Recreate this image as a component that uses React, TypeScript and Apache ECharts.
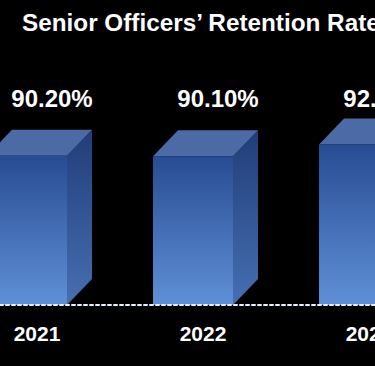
import React, { useEffect, useRef } from "react";
import * as echarts from "echarts";

const title = "Senior Officers\u2019 Retention Rate";
const years = ["2021", "2022", "2023"];
const rates = [90.2, 90.1, 92.5];
const rateLabels = ["90.20%", "90.10%", "92.50%"];
const yearPositions = [0, 1, 2];

const FONT = "'Liberation Sans', Arial, sans-serif";

export default function App() {
  const ref = useRef<HTMLDivElement>(null);
  useEffect(() => {
    if (!ref.current) return;
    const chart = echarts.init(ref.current, null, { renderer: "svg" });
    const option: any = {
      animation: false,
      backgroundColor: "#000000",
      title: {
        text: title,
        left: 17,
        top: 5,
        textStyle: { color: "#ffffff", fontSize: 24.3, fontWeight: "bold", fontFamily: FONT },
      },
      grid: { left: 0, right: 0, top: 58, bottom: 61, outerBoundsMode: "none", containLabel: false },
      xAxis: {
        type: "value",
        min: -0.2229,
        max: 2.036,
        z: 10,
        splitLine: { show: false },
        axisLine: { show: true, onZero: false, lineStyle: { color: "#e6f2ff", width: 2, type: [3, 3] } },
        axisTick: { show: false },
        axisLabel: {
          customValues: yearPositions,
          formatter: (v: number) => years[Math.round(v)] ?? "",
          color: "#ffffff",
          fontSize: 21,
          fontWeight: "bold",
          fontFamily: FONT,
          margin: 18,
        },
      },
      yAxis: { type: "value", min: 60, max: 110, show: false, splitLine: { show: false } },
      series: [
        {
          type: "custom",
          clip: false,
          data: rates.map((v, i) => [yearPositions[i], v]),
          renderItem: (params: any, api: any) => {
            const idx = api.value(0);
            const v = api.value(1);
            const top = api.coord([idx, v]);
            const base = api.coord([idx, 60]);
            const cx = top[0];
            const xl = cx - 50;
            const xr = cx + 30;
            const dx = 25;
            const dy = 26;
            const yt = top[1];
            const yb = base[1];
            return {
              type: "group",
              children: [
                {
                  type: "polygon",
                  shape: { points: [[xr, yt], [xr + dx, yt - dy], [xr + dx, yb - dy], [xr, yb]] },
                  style: {
                    fill: new echarts.graphic.LinearGradient(0, 0, 0, 1, [
                      { offset: 0, color: "#213d78" },
                      { offset: 1, color: "#466fb2" },
                    ]),
                  },
                },
                {
                  type: "polygon",
                  shape: { points: [[xl, yt], [xl + dx, yt - dy], [xr + dx, yt - dy], [xr, yt]] },
                  style: { fill: "#4b6aa6" },
                },
                {
                  type: "rect",
                  shape: { x: xl, y: yt, width: xr - xl, height: yb - yt },
                  style: {
                    fill: new echarts.graphic.LinearGradient(0, 0, 0, 1, [
                      { offset: 0, color: "#284c93" },
                      { offset: 1, color: "#5f90d7" },
                    ]),
                  },
                },
                {
                  type: "text",
                  x: cx + 15,
                  y: 98,
                  style: {
                    text: rateLabels[params.dataIndex],
                    align: "center",
                    verticalAlign: "middle",
                    fill: "#ffffff",
                    font: `bold 24px ${FONT}`,
                  },
                },
              ],
            };
          },
        },
      ],
    };
    chart.setOption(option);
    return () => chart.dispose();
  }, []);
  return (
    <div
      ref={ref}
      style={{ position: "fixed", left: 0, top: 0, width: 375, height: 366 }}
    />
  );
}
